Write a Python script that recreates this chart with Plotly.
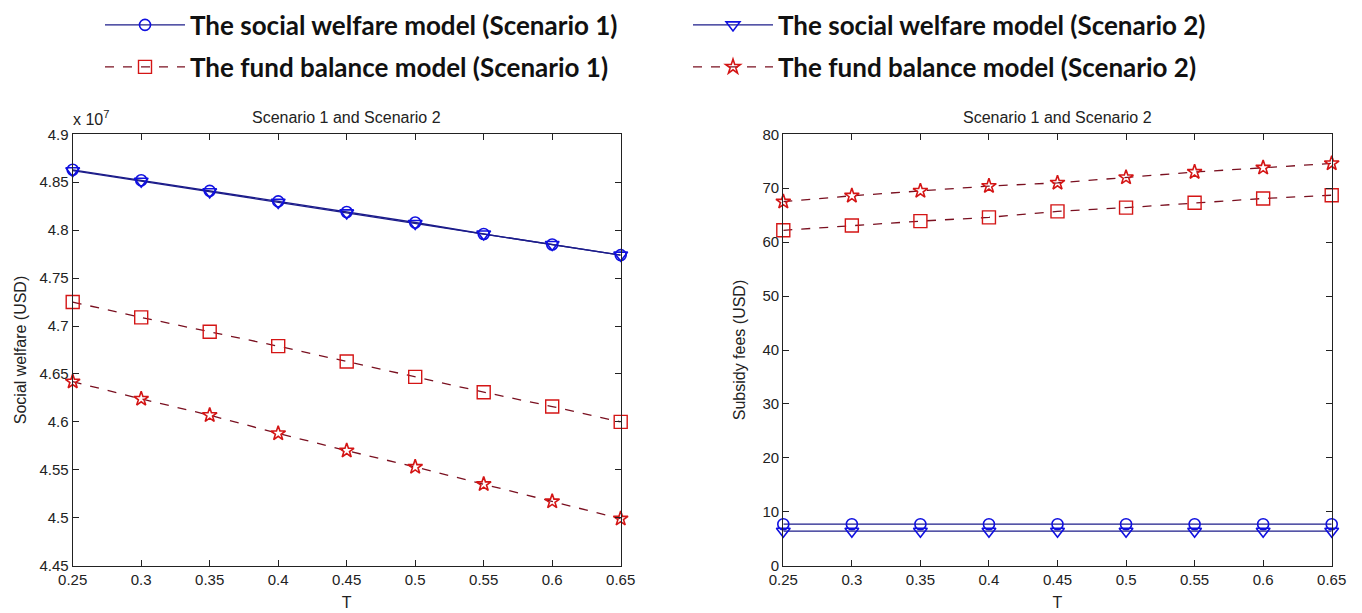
import plotly.graph_objects as go

# Tax rate T
t_values = [0.25, 0.30, 0.35, 0.40, 0.45, 0.50, 0.55, 0.60, 0.65]

# Social welfare (USD), in units of 10^7
welfare_sw_s1 = [4.863, 4.852, 4.841, 4.830, 4.819, 4.808, 4.796, 4.785, 4.774]
welfare_sw_s2 = [4.862, 4.851, 4.840, 4.829, 4.818, 4.807, 4.796, 4.785, 4.774]
welfare_fb_s1 = [4.725, 4.709, 4.694, 4.679, 4.663, 4.647, 4.631, 4.616, 4.600]
welfare_fb_s2 = [4.642, 4.624, 4.607, 4.588, 4.570, 4.553, 4.535, 4.517, 4.499]

# Subsidy fees (USD)
subsidy_sw_s1 = [7.7, 7.7, 7.7, 7.7, 7.7, 7.7, 7.7, 7.7, 7.7]
subsidy_sw_s2 = [6.4, 6.4, 6.4, 6.4, 6.4, 6.4, 6.4, 6.4, 6.4]
subsidy_fb_s1 = [62.2, 63.1, 63.9, 64.6, 65.7, 66.4, 67.3, 68.1, 68.7]
subsidy_fb_s2 = [67.5, 68.6, 69.5, 70.4, 71.0, 72.0, 73.0, 73.8, 74.6]

x_ticks = [0.25, 0.3, 0.35, 0.4, 0.45, 0.5, 0.55, 0.6, 0.65]
x_tick_text = ["0.25", "0.3", "0.35", "0.4", "0.45", "0.5", "0.55", "0.6", "0.65"]
welfare_ticks = [4.45, 4.5, 4.55, 4.6, 4.65, 4.7, 4.75, 4.8, 4.85, 4.9]
welfare_tick_text = ["4.45", "4.5", "4.55", "4.6", "4.65", "4.7", "4.75", "4.8", "4.85", "4.9"]
subsidy_ticks = [0, 10, 20, 30, 40, 50, 60, 70, 80]

names = [
    "The social welfare model (Scenario 1)",
    "The social welfare model (Scenario 2)",
    "The fund balance model (Scenario 1)",
    "The fund balance model (Scenario 2)",
]

SW_LINE = "#1c1c8a"
SW_MARK = "#1010e0"
FB_LINE = "#7a1020"
FB_MARK = "#d41515"

styles = [
    dict(line=dict(color=SW_LINE, width=1.3),
         marker=dict(symbol="circle-open", size=11, color=SW_MARK, line=dict(width=1.6))),
    dict(line=dict(color=SW_LINE, width=1.3),
         marker=dict(symbol="triangle-down-open", size=12, color=SW_MARK, line=dict(width=1.6))),
    dict(line=dict(color=FB_LINE, width=1.3, dash="dash"),
         marker=dict(symbol="square-open", size=13, color=FB_MARK, line=dict(width=1.4))),
    dict(line=dict(color=FB_LINE, width=1.3, dash="dash"),
         marker=dict(symbol="star-open", size=11, color=FB_MARK, line=dict(width=1.6))),
]
legend_ids = ["legend", "legend", "legend2", "legend2"]

fig = go.Figure()

left_series = [welfare_sw_s1, welfare_sw_s2, welfare_fb_s1, welfare_fb_s2]
right_series = [subsidy_sw_s1, subsidy_sw_s2, subsidy_fb_s1, subsidy_fb_s2]

for i, ys in enumerate(left_series):
    fig.add_trace(go.Scatter(
        x=t_values, y=ys, mode="lines+markers", name=names[i],
        xaxis="x", yaxis="y", legend=legend_ids[i], showlegend=True,
        cliponaxis=False, **styles[i]))

for i, ys in enumerate(right_series):
    fig.add_trace(go.Scatter(
        x=t_values, y=ys, mode="lines+markers", name=names[i],
        xaxis="x2", yaxis="y2", showlegend=False,
        cliponaxis=False, **styles[i]))

tick_font = dict(family="Liberation Sans, Arial, sans-serif", size=15, color="#222")
label_font = dict(family="Liberation Sans, Arial, sans-serif", size=16, color="#222")

axis_common = dict(
    showgrid=False, zeroline=False, showline=True, linecolor="#222", linewidth=1.2,
    mirror="ticks", ticks="inside", ticklen=6, tickwidth=1.2, tickcolor="#222",
    tickfont=tick_font, automargin=False,
)

W, H = 1362, 613
left_dom = [72.7 / W, 620.7 / W]
right_dom = [783.3 / W, 1331.7 / W]
y_dom = [(H - 565.7) / H, (H - 134.3) / H]

legend_common = dict(
    orientation="h", xanchor="left", yanchor="middle",
    font=dict(family="Lato, 'Open Sans', sans-serif", size=26, color="#111", weight="bold"),
    entrywidth=493, entrywidthmode="pixels", itemwidth=80,
    bgcolor="rgba(0,0,0,0)",
)

fig.update_layout(
    width=W, height=H,
    margin=dict(l=0, r=0, t=0, b=0, autoexpand=False),
    paper_bgcolor="white", plot_bgcolor="white",
    xaxis=dict(domain=left_dom, range=[0.25, 0.65], tickvals=x_ticks, ticktext=x_tick_text,
               title=dict(text="T", font=label_font, standoff=10), anchor="y", **axis_common),
    yaxis=dict(domain=y_dom, range=[4.45, 4.9], tickvals=welfare_ticks, ticktext=welfare_tick_text,
               title=dict(text="Social welfare (USD)", font=label_font, standoff=8),
               anchor="x", **axis_common),
    xaxis2=dict(domain=right_dom, range=[0.25, 0.65], tickvals=x_ticks, ticktext=x_tick_text,
                title=dict(text="T", font=label_font, standoff=10), anchor="y2", **axis_common),
    yaxis2=dict(domain=y_dom, range=[0, 80], tickvals=subsidy_ticks,
                title=dict(text="Subsidy fees (USD)", font=label_font, standoff=12),
                anchor="x2", **axis_common),
    legend=dict(x=100 / W, y=1 - 25 / H, **legend_common),
    legend2=dict(x=100 / W, y=1 - 67 / H, **legend_common),
    annotations=[
        dict(text="Scenario 1 and Scenario 2", xref="paper", yref="paper",
             x=sum(left_dom) / 2, y=1 - 117 / H, showarrow=False, font=label_font,
             xanchor="center", yanchor="middle"),
        dict(text="Scenario 1 and Scenario 2", xref="paper", yref="paper",
             x=sum(right_dom) / 2, y=1 - 117 / H, showarrow=False, font=label_font,
             xanchor="center", yanchor="middle"),
        dict(text="x 10<sup>7</sup>", xref="paper", yref="paper",
             x=left_dom[0] - 2 / W, y=1 - 130 / H, showarrow=False,
             font=dict(family="Liberation Sans, Arial, sans-serif", size=16, color="#222"),
             xanchor="left", yanchor="bottom"),
    ],
)

fig.write_html("out.html")
